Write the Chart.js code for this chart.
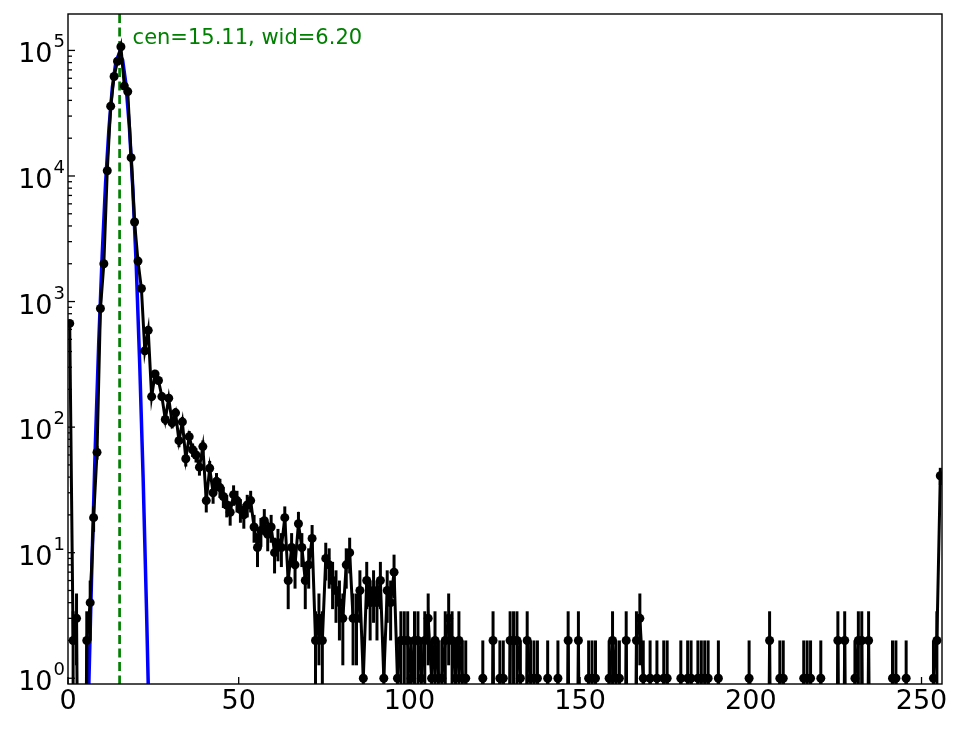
<!DOCTYPE html>
<html>
<head>
<meta charset="utf-8">
<script src="https://cdn.jsdelivr.net/npm/chart.js@4.4.1/dist/chart.umd.min.js"></script>
<style>
  html, body { margin: 0; padding: 0; background: #fff; }
  #wrap { width: 964px; height: 729px; }
</style>
</head>
<body>
<div id="wrap"><canvas id="myChart" width="964" height="729"></canvas></div>
<script>
// contagem por canal (bins 0..255, centro em i+0.5)
const counts = [
    670, 2, 3, 0, 0, 2, 4, 19, 63, 880,
    2000, 11000, 36000, 62000, 82000, 107000, 52000, 47000, 14000, 4300,
    2100, 1270, 405, 590, 175, 265, 235, 175, 115, 170,
    108, 130, 78, 110, 56, 84, 66, 60, 48, 70,
    26, 47, 30, 37, 33, 28, 24, 21, 29, 26,
    22, 20, 24, 26, 16, 11, 15, 18, 14, 16,
    10, 12, 11, 19, 6, 11, 8, 17, 11, 6,
    8, 13, 2, 3, 2, 9, 8, 6, 5, 4,
    3, 8, 10, 3, 3, 5, 1, 6, 4, 5,
    4, 6, 1, 5, 4, 7, 1, 2, 2, 2,
    1, 2, 2, 1, 2, 3, 1, 2, 1, 1,
    2, 3, 2, 1, 2, 1, 1, 0, 0, 0,
    0, 1, 0, 0, 2, 0, 1, 1, 0, 2,
    2, 2, 1, 0, 2, 1, 1, 1, 0, 0,
    1, 0, 0, 1, 0, 0, 2, 0, 0, 2,
    0, 0, 1, 1, 1, 0, 0, 0, 1, 2,
    1, 1, 0, 2, 0, 0, 2, 3, 1, 0,
    1, 0, 1, 0, 1, 1, 0, 0, 0, 1,
    0, 1, 1, 0, 1, 1, 1, 1, 0, 0,
    1, 0, 0, 0, 0, 0, 0, 0, 0, 1,
    0, 0, 0, 0, 0, 2, 0, 0, 1, 1,
    0, 0, 0, 0, 0, 1, 1, 1, 0, 0,
    1, 0, 0, 0, 0, 2, 0, 2, 0, 0,
    1, 2, 2, 0, 2, 0, 0, 0, 0, 0,
    0, 1, 1, 0, 0, 1, 0, 0, 0, 0,
    0, 0, 0, 1, 2, 41
];

// curva do ajuste
const fitX = [6, 7, 8, 9, 10, 11, 12, 13, 14, 15, 16, 17, 18, 19, 20, 21, 22, 23, 24];
const fitY = [0.7, 8, 71, 470, 2300, 8700, 24000, 51000, 80000, 95000,
              84000, 53000, 24000, 7900, 1900, 320, 40, 3.5, 0.23];

const cen = 15.11;
const fitText = "cen=15.11, wid=6.20";

const xTickValues = [0, 50, 100, 150, 200, 250];
const xTickLabels = ["0", "50", "100", "150", "200", "250"];
const yTickValues = [1, 10, 100, 1000, 10000, 100000];
const yTickBase = "10";
const yTickExps = ["0", "1", "2", "3", "4", "5"];

const FONT = "'DejaVu Sans', sans-serif";

// linha do centro, barras de erro, rótulos, ticks e moldura
const decor = {
    id: 'decor',
    beforeDatasetsDraw(chart) {
        const { ctx, chartArea: a, scales: { x } } = chart;
        const px = x.getPixelForValue(cen);
        ctx.save();
        ctx.strokeStyle = '#008000';
        ctx.lineWidth = 2.7;
        ctx.setLineDash([9, 4.5]);
        ctx.beginPath();
        ctx.moveTo(px, a.top);
        ctx.lineTo(px, a.bottom);
        ctx.stroke();
        ctx.restore();
    },
    afterDatasetsDraw(chart) {
        const { ctx, chartArea: a, scales: { x, y } } = chart;
        ctx.save();
        ctx.beginPath();
        ctx.rect(a.left, a.top, a.right - a.left, a.bottom - a.top);
        ctx.clip();
        ctx.strokeStyle = '#000';
        ctx.lineWidth = 3;
        counts.forEach((c, i) => {
            if (c <= 0) return;
            const e = Math.sqrt(c);
            const px = x.getPixelForValue(i + 0.5);
            const lo = c - e > 0 ? Math.min(y.getPixelForValue(c - e), a.bottom + 10) : a.bottom + 10;
            const hi = y.getPixelForValue(c + e);
            ctx.beginPath();
            ctx.moveTo(px, lo);
            ctx.lineTo(px, hi);
            ctx.stroke();
        });
        ctx.restore();

        ctx.save();
        ctx.fillStyle = '#008000';
        ctx.font = "21px " + FONT;
        ctx.textBaseline = 'alphabetic';
        ctx.fillText(fitText, x.getPixelForValue(cen) + 13, a.top + 30);
        ctx.restore();
    },
    afterDraw(chart) {
        const { ctx, chartArea: a, scales: { x, y } } = chart;
        ctx.save();
        ctx.fillStyle = '#000';
        // rótulos x
        ctx.font = "27px " + FONT;
        ctx.textAlign = 'center';
        ctx.textBaseline = 'alphabetic';
        xTickValues.forEach((v, i) => {
            ctx.fillText(xTickLabels[i], x.getPixelForValue(v), a.bottom + 25);
        });
        // rótulos y (10 com expoente)
        yTickValues.forEach((v, i) => {
            const py = y.getPixelForValue(v);
            ctx.font = "18px " + FONT;
            ctx.textAlign = 'right';
            const ew = ctx.measureText(yTickExps[i]).width;
            ctx.fillText(yTickExps[i], a.left - 3, py - 3);
            ctx.font = "27px " + FONT;
            ctx.fillText(yTickBase, a.left - 4 - ew, py + 12);
        });

        ctx.strokeStyle = '#000';
        ctx.lineWidth = 1.3;
        // ticks x (para dentro)
        xTickValues.forEach(v => {
            const px = x.getPixelForValue(v);
            ctx.beginPath();
            ctx.moveTo(px, a.bottom);
            ctx.lineTo(px, a.bottom - 7);
            ctx.stroke();
        });
        // ticks y maiores e menores
        for (let d = 0; d <= 5; d++) {
            for (let m = 1; m <= 9; m++) {
                const v = m * Math.pow(10, d);
                if (v < y.min || v > y.max) continue;
                const py = y.getPixelForValue(v);
                ctx.beginPath();
                ctx.moveTo(a.left, py);
                ctx.lineTo(a.left + (m === 1 ? 7 : 4), py);
                ctx.stroke();
            }
        }
        ctx.lineWidth = 1.4;
        ctx.strokeRect(a.left, a.top, a.right - a.left, a.bottom - a.top);
        ctx.restore();
    }
};

const ctx = document.getElementById('myChart').getContext('2d');
new Chart(ctx, {
    type: 'line',
    data: {
        datasets: [
            {
                label: 'dados',
                data: counts.map((c, i) => ({ x: i + 0.5, y: c > 0 ? c : 1e-3 })),
                borderColor: '#000',
                borderWidth: 3,
                pointRadius: c => (counts[c.dataIndex] > 0 ? 4.5 : 0),
                pointBackgroundColor: '#000',
                pointBorderWidth: 0,
                tension: 0,
                order: 0
            },
            {
                label: 'ajuste',
                data: fitX.map((v, i) => ({ x: v, y: fitY[i] })),
                borderColor: '#0000ff',
                borderWidth: 3.5,
                pointRadius: 0,
                tension: 0,
                order: 1
            }
        ]
    },
    options: {
        responsive: false,
        animation: false,
        layout: { padding: { left: 0, right: 22, top: 14, bottom: 0 } },
        plugins: {
            legend: { display: false },
            tooltip: { enabled: false }
        },
        scales: {
            x: {
                type: 'linear',
                min: 0,
                max: 256,
                grid: { display: false },
                border: { display: false },
                ticks: { display: false },
                afterFit: s => { s.height = 45; }
            },
            y: {
                type: 'logarithmic',
                min: 0.9,
                max: 195000,
                grid: { display: false },
                border: { display: false },
                ticks: { display: false },
                afterFit: s => { s.width = 68; }
            }
        }
    },
    plugins: [decor]
});
</script>
</body>
</html>
